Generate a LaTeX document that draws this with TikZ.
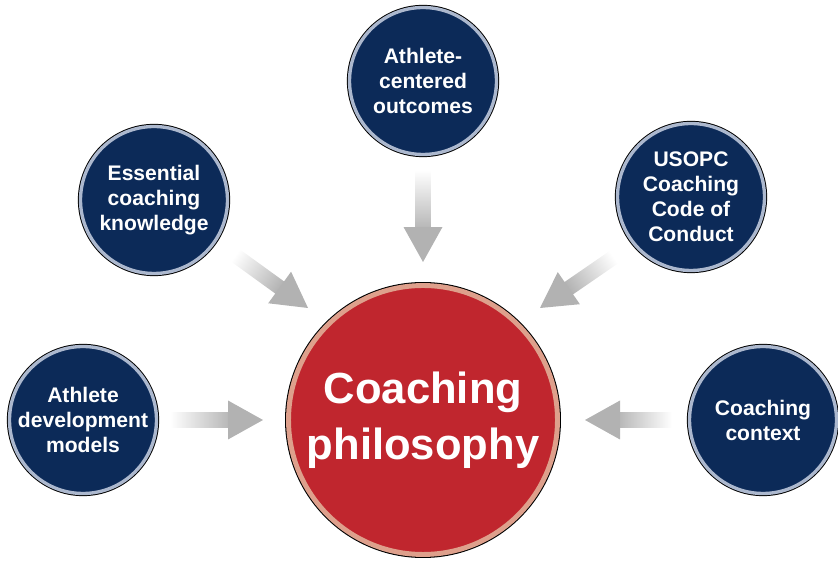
\documentclass[tikz,border=0pt]{standalone}
\usepackage{fontspec}
\setmainfont{Liberation Sans}
\usetikzlibrary{calc}
\definecolor{navy}{RGB}{12,42,88}
\definecolor{navyring}{RGB}{172,184,206}
\definecolor{corered}{RGB}{192,38,46}
\definecolor{corering}{RGB}{222,160,140}
\definecolor{arrowgray}{RGB}{178,178,178}
\tikzset{
	topic/.style={circle, fill=navy, draw=navyring, line width=1.9pt, preaction={draw=black, line width=3pt}, minimum size=2.94cm, inner sep=0pt, align=center, text=white, font=\bfseries\fontsize{12}{14.2}\selectfont},
	core/.style={circle, fill=corered, draw=corering, line width=2.8pt, preaction={draw=black, line width=4pt}, minimum size=5.38cm, inner sep=0pt, align=center, text=white, font=\bfseries\fontsize{24.8}{32}\selectfont}
}
\newcommand{\fadearrow}[3]{%
	\coordinate (hb) at ($(#2)!0.7cm!(#1)$);
	\coordinate (se) at ($(#2)!0.6cm!(#1)$);
	\shade[left color=white, right color=arrowgray, shading angle=#3] ($(#1)!0.15cm!90:(#2)$) -- ($(se)!0.15cm!-90:(#1)$) -- ($(se)!0.15cm!90:(#1)$) -- ($(#1)!0.15cm!-90:(#2)$) -- cycle;
	\fill[arrowgray] ($(hb)!0.39cm!90:(#1)$) -- (#2) -- ($(hb)!0.39cm!-90:(#1)$) -- cycle;
}

\begin{document}
\begin{tikzpicture}[x=0.02cm, y=0.02cm]
	\useasboundingbox (0,0) rectangle (838,564);
	\node[core] (philo) at (423,144) {Coaching\\philosophy};
	\node[topic] (outcomes) at (423,483) {Athlete-\\centered\\outcomes};
	\node[topic] (knowledge) at (154,364) {Essential\\coaching\\knowledge};
	\node[topic] (usopc) at (691,367) {USOPC\\Coaching\\Code of\\Conduct};
	\node[topic] (models) at (83,144) {Athlete\\development\\models};
	\node[topic] (context) at (763,144) {Coaching\\context};
	\coordinate (a1) at (170,144);
	\coordinate (b1) at (263,144);
	\coordinate (a2) at (672,144);
	\coordinate (b2) at (585,144);
	\coordinate (a3) at (423,394);
	\coordinate (b3) at (423,302);
	\coordinate (a4) at (232,311);
	\coordinate (b4) at (308,256);
	\coordinate (a5) at (617,309);
	\coordinate (b5) at (540,256);
	\fadearrow{a1}{b1}{90}
	\fadearrow{a2}{b2}{270}
	\fadearrow{a3}{b3}{0}
	\fadearrow{a4}{b4}{54}
	\fadearrow{a5}{b5}{304.5}
\end{tikzpicture}
\end{document}
